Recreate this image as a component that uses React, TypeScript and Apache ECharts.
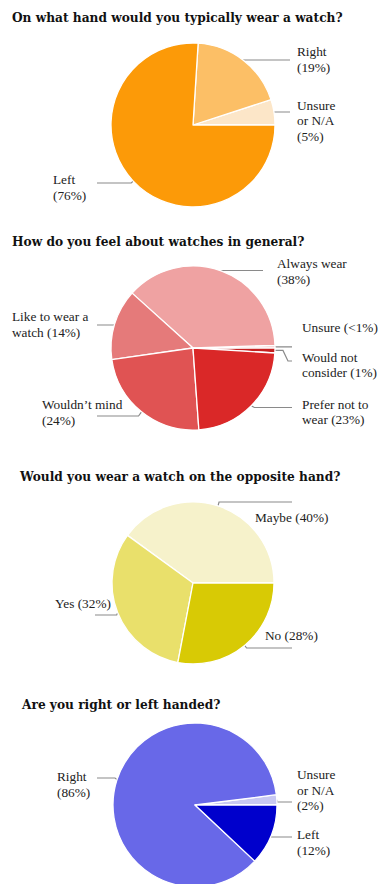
import React, { useEffect, useRef } from "react";
import * as echarts from "echarts";

// ---------- data ----------
const titles = [
  "On what hand would you typically wear a watch?",
  "How do you feel about watches in general?",
  "Would you wear a watch on the opposite hand?",
  "Are you right or left handed?",
];

// chart 1 (order: counter-clockwise from 3 o'clock)
const handNames = ["Unsure or N/A", "Right", "Left"];
const handValues = [5, 19, 76];
const handLabels = ["Unsure\nor N/A\n(5%)", "Right\n(19%)", "Left\n(76%)"];
const handColors = ["#FCE6C8", "#FCBF66", "#FC9A08"];

// chart 2
const feelNames = ["Would not consider", "Unsure", "Always wear", "Like to wear a watch", "Wouldn't mind", "Prefer not to wear"];
const feelValues = [1, 0.5, 38, 14, 24, 23];
const feelLabels = ["Would not\nconsider (1%)", "Unsure (<1%)", "Always wear\n(38%)", "Like to wear a\nwatch (14%)", "Wouldn\u2019t mind\n(24%)", "Prefer not to\nwear (23%)"];
const feelColors = ["#C42020", "#F3C8C8", "#EFA2A2", "#E57A7A", "#E05353", "#DA2828"];

// chart 3
const oppNames = ["Maybe", "Yes", "No"];
const oppValues = [40, 32, 28];
const oppLabels = ["Maybe (40%)", "Yes (32%)", "No (28%)"];
const oppColors = ["#F6F2CB", "#E9E06B", "#D8CA05"];

// chart 4
const handedNames = ["Unsure or N/A", "Right", "Left"];
const handedValues = [2, 86, 12];
const handedLabels = ["Unsure\nor N/A\n(2%)", "Right\n(86%)", "Left\n(12%)"];
const handedColors = ["#C8C8F2", "#6868E8", "#0000CC"];

// ---------- layout (positions only) ----------
const TITLE_POS = [
  [12, 17.5],
  [12, 242],
  [20, 477],
  [22, 705],
];
const PIE_POS = [
  { c: [193, 125], r: 82, start: 0 },
  { c: [193, 348], r: 82, start: 356.5 },
  { c: [193, 583], r: 81, start: 0 },
  { c: [195, 805], r: 82, start: 0 },
];
type Spec = { lineY: number; lineTo: number; tx: number; ty: number; knee?: number; flat?: number };
const LABEL_SPECS: Spec[][] = [
  [
    { lineY: 112, lineTo: 290, tx: 297, ty: 120.5 },
    { lineY: 60, lineTo: 290, tx: 297, ty: 59.5 },
    { lineY: 183, lineTo: 97, tx: 53, ty: 187.5, knee: -2 },
  ],
  [
    { lineY: 361, lineTo: 292, tx: 302, ty: 365, flat: 8, knee: 5 },
    { lineY: 346.8, lineTo: 292, tx: 302, ty: 327 },
    { lineY: 270.5, lineTo: 263, tx: 277, ty: 271.5 },
    { lineY: 325, lineTo: 97, tx: 12, ty: 324.5 },
    { lineY: 416, lineTo: 97, tx: 42, ty: 412.5, knee: -3 },
    { lineY: 407.5, lineTo: 292, tx: 302, ty: 412, knee: 3 },
  ],
  [
    { lineY: 502, lineTo: 292, tx: 255, ty: 517, knee: 1 },
    { lineY: 615, lineTo: 95, tx: 55, ty: 603, knee: -1 },
    { lineY: 648, lineTo: 292, tx: 265, ty: 635, knee: 2 },
  ],
  [
    { lineY: 802, lineTo: 292, tx: 297, ty: 790 },
    { lineY: 778, lineTo: 97, tx: 57, ty: 784.5, knee: -2 },
    { lineY: 837, lineTo: 292, tx: 297, ty: 842.5 },
  ],
];

const TITLE_FONT = "'DejaVu Serif', serif";
const LABEL_FONT = "'Liberation Serif', 'DejaVu Serif', serif";

function makeSeries(i: number, names: string[], values: number[], labels: string[], colors: string[]) {
  const pos = PIE_POS[i];
  const specs = LABEL_SPECS[i];
  return {
    type: "pie",
    center: pos.c,
    radius: pos.r,
    startAngle: pos.start,
    clockwise: false,
    avoidLabelOverlap: false,
    silent: true,
    itemStyle: { borderColor: "#ffffff", borderWidth: 1.3 },
    label: {
      show: true,
      position: "outside",
      color: "#222222",
      fontFamily: LABEL_FONT,
      fontSize: 13.3,
      lineHeight: 15.5,
    },
    labelLine: {
      show: true,
      length: 0,
      length2: 20,
      smooth: false,
      lineStyle: { color: "#8a8a8a", width: 1.2 },
    },
    labelLayout: (p: any) => {
      const s = specs[p.dataIndex];
      const p0 = p.labelLinePoints[0];
      const pts: number[][] = [[p0[0], p0[1]]];
      let x = p0[0];
      if (s.flat) {
        x += s.flat;
        pts.push([x, p0[1]]);
      }
      pts.push([x + (s.knee || 0), s.lineY]);
      pts.push([s.lineTo, s.lineY]);
      return { x: s.tx, y: s.ty, align: "left", verticalAlign: "middle", labelLinePoints: pts };
    },
    data: names.map((n, k) => ({
      name: n,
      value: values[k],
      itemStyle: { color: colors[k] },
      label: { formatter: labels[k] },
    })),
  };
}

export default function App() {
  const ref = useRef<HTMLDivElement>(null);
  useEffect(() => {
    document.body.style.margin = "0";
    const chart = echarts.init(ref.current!, undefined, { renderer: "svg" });
    chart.setOption({
      animation: false,
      backgroundColor: "#ffffff",
      title: titles.map((t, i) => ({
        text: t,
        left: TITLE_POS[i][0],
        top: TITLE_POS[i][1] - 8,
        padding: 0,
        textStyle: { fontFamily: TITLE_FONT, fontWeight: "bold", fontSize: 12.2, color: "#111111", lineHeight: 16 },
      })),
      series: [
        makeSeries(0, handNames, handValues, handLabels, handColors),
        makeSeries(1, feelNames, feelValues, feelLabels, feelColors),
        makeSeries(2, oppNames, oppValues, oppLabels, oppColors),
        makeSeries(3, handedNames, handedValues, handedLabels, handedColors),
      ],
    });
    return () => chart.dispose();
  }, []);
  return <div ref={ref} style={{ position: "absolute", left: 0, top: 0, width: 382, height: 884 }} />;
}
